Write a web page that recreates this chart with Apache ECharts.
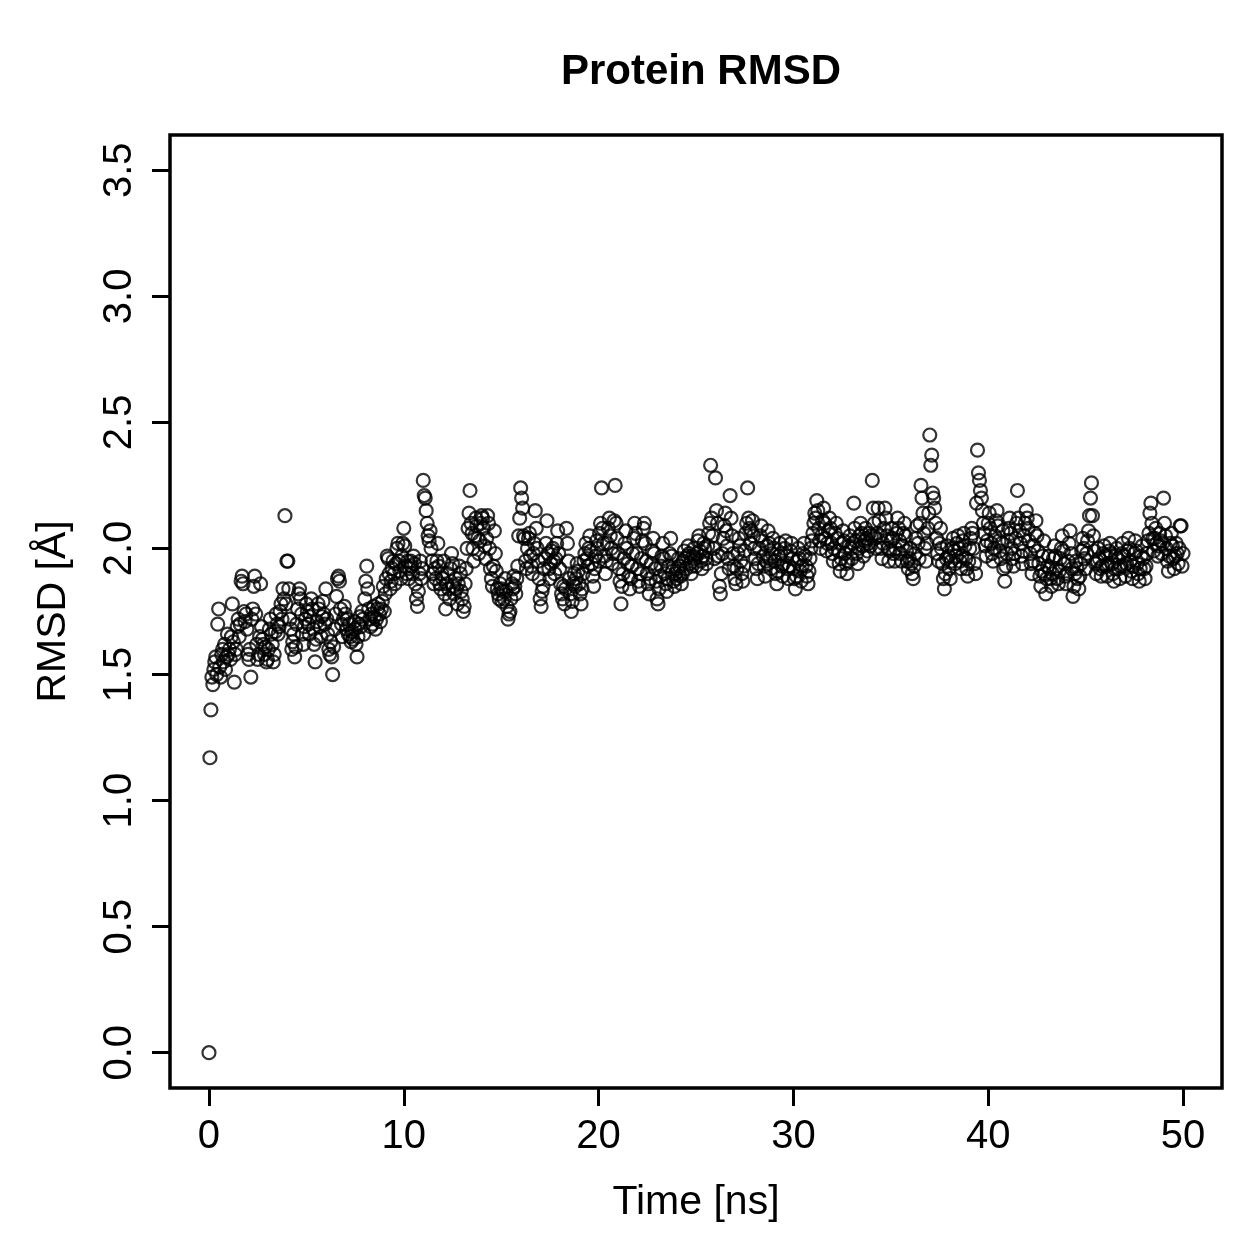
<!DOCTYPE html>
<html>
<head>
<meta charset="utf-8">
<title>Protein RMSD</title>
<script src="https://cdn.jsdelivr.net/npm/echarts@6/dist/echarts.min.js"></script>
<style>
  html, body { margin: 0; padding: 0; background: #fff; }
  #chart { width: 1259px; height: 1259px; }
</style>
</head>
<body>
<div id="chart"></div>
<script>
// frames are written every 0.05 ns, 0 .. 50 ns
const timeStep = 0.05

// RMSD values [Å], one row per ns
const rmsd = [
  0.00, 1.17, 1.36, 1.49, 1.46, 1.52, 1.55, 1.57, 1.50, 1.70, 1.76, 1.53, 1.49, 1.58, 1.60, 1.55, 1.62, 1.52, 1.57, 1.66,
  1.58, 1.60, 1.56, 1.65, 1.78, 1.63, 1.47, 1.58, 1.60, 1.69, 1.72, 1.65, 1.70, 1.87, 1.89, 1.86, 1.75, 1.71, 1.74, 1.68,
  1.58, 1.56, 1.60, 1.49, 1.72, 1.76, 1.85, 1.89, 1.74, 1.62, 1.56, 1.58, 1.65, 1.86, 1.69, 1.64, 1.62, 1.58, 1.61, 1.55,
  1.56, 1.60, 1.68, 1.72, 1.66, 1.62, 1.55, 1.58, 1.67, 1.74, 1.70, 1.66, 1.69, 1.75, 1.78, 1.72, 1.84, 1.80, 2.13, 1.78,
  1.95, 1.95, 1.84, 1.72, 1.68, 1.60, 1.63, 1.66, 1.57, 1.61, 1.70, 1.76, 1.82, 1.84, 1.80, 1.74, 1.66, 1.62, 1.69, 1.72,
  1.78, 1.75, 1.70, 1.66, 1.73, 1.80, 1.76, 1.68, 1.62, 1.55, 1.64, 1.71, 1.78, 1.76, 1.69, 1.65, 1.73, 1.79, 1.74, 1.70,
  1.84, 1.72, 1.66, 1.60, 1.58, 1.63, 1.57, 1.50, 1.61, 1.68, 1.74, 1.81, 1.88, 1.89, 1.87, 1.76, 1.70, 1.65, 1.72, 1.77,
  1.74, 1.68, 1.72, 1.66, 1.70, 1.65, 1.63, 1.67, 1.64, 1.71, 1.68, 1.62, 1.57, 1.65, 1.70, 1.73, 1.69, 1.75, 1.72, 1.66,
  1.80, 1.87, 1.93, 1.84, 1.76, 1.72, 1.69, 1.74, 1.70, 1.77, 1.73, 1.68, 1.72, 1.76, 1.78, 1.74, 1.71, 1.76, 1.79, 1.85,
  1.75, 1.82, 1.88, 1.97, 1.96, 1.90, 1.84, 1.87, 1.92, 1.95, 1.90, 1.86, 1.94, 2.00, 2.02, 1.95, 1.91, 1.88, 1.97, 2.02,
  2.08, 2.01, 1.93, 1.90, 1.95, 1.88, 1.92, 1.95, 1.93, 1.90, 1.97, 1.94, 1.86, 1.80, 1.77, 1.83, 1.90, 1.95, 1.88, 1.92,
  2.27, 2.21, 2.20, 2.15, 2.10, 2.05, 2.03, 2.07, 2.00, 1.95, 1.90, 1.86, 1.92, 1.88, 1.95, 2.02, 1.93, 1.86, 1.84, 1.90,
  1.88, 1.95, 1.82, 1.76, 1.86, 1.90, 1.84, 1.80, 1.92, 1.98, 1.94, 1.85, 1.82, 1.88, 1.84, 1.78, 1.86, 1.93, 1.90, 1.83,
  1.80, 1.75, 1.77, 1.86, 1.92, 2.00, 2.08, 2.14, 2.23, 2.10, 2.06, 2.00, 1.95, 2.05, 2.12, 2.09, 2.04, 1.98, 2.03, 2.10,
  2.13, 2.12, 2.08, 2.01, 1.96, 2.04, 2.13, 2.10, 2.00, 1.92, 1.88, 1.85, 1.93, 2.07, 1.98, 1.91, 1.84, 1.82, 1.80, 1.86,
  1.84, 1.79, 1.83, 1.80, 1.88, 1.83, 1.77, 1.72, 1.74, 1.75, 1.80, 1.86, 1.84, 1.89, 1.85, 1.82, 1.88, 1.93, 2.05, 2.12,
  2.24, 2.20, 2.16, 2.05, 2.04, 1.95, 1.92, 2.00, 2.04, 2.06, 1.97, 1.93, 1.90, 1.98, 2.02, 2.15, 2.08, 2.00, 1.95, 1.88,
  1.80, 1.77, 1.83, 1.85, 1.92, 1.96, 2.02, 2.11, 1.98, 1.92, 1.88, 1.94, 1.99, 2.00, 1.95, 1.90, 1.96, 2.02, 2.07, 1.98,
  1.92, 1.86, 1.82, 1.80, 1.85, 1.78, 1.84, 2.08, 2.02, 1.95, 1.88, 1.82, 1.75, 1.79, 1.86, 1.90, 1.85, 1.88, 1.94, 1.91,
  1.86, 1.82, 1.78, 1.84, 1.90, 1.95, 1.98, 2.02, 1.96, 1.93, 2.00, 2.05, 1.99, 1.94, 1.89, 1.85, 1.92, 1.97, 2.03, 2.00,
  1.95, 2.06, 2.10, 2.24, 2.08, 2.02, 1.97, 1.90, 1.95, 2.02, 2.08, 2.12, 2.05, 2.00, 1.94, 1.98, 2.11, 2.25, 2.10, 2.04,
  1.98, 1.92, 1.87, 1.78, 1.85, 1.90, 1.96, 2.02, 2.07, 2.00, 1.94, 1.89, 1.84, 1.88, 1.93, 1.98, 2.04, 2.10, 2.06, 1.98,
  1.92, 1.87, 1.85, 1.90, 1.96, 2.03, 2.08, 2.10, 2.02, 1.95, 1.90, 1.86, 1.82, 1.88, 1.94, 1.99, 2.04, 1.98, 1.92, 1.87,
  1.80, 1.78, 1.84, 1.89, 1.93, 1.97, 2.02, 1.96, 1.90, 1.86, 1.83, 1.88, 1.93, 1.98, 2.04, 1.97, 1.91, 1.87, 1.85, 1.90,
  1.88, 1.92, 1.96, 1.93, 1.89, 1.86, 1.90, 1.95, 1.99, 1.96, 1.92, 1.97, 2.01, 1.98, 1.94, 1.90, 1.93, 1.97, 2.00, 1.96,
  1.93, 1.98, 2.03, 2.05, 1.99, 1.95, 1.92, 1.97, 2.02, 2.00, 1.96, 1.94, 2.01, 2.06, 2.10, 2.33, 2.12, 2.05, 2.00, 1.96,
  2.28, 2.15, 2.10, 1.97, 1.85, 1.82, 1.90, 1.98, 2.04, 2.09, 2.14, 2.07, 2.01, 1.96, 1.92, 2.21, 2.12, 2.05, 1.98, 1.93,
  1.88, 1.86, 1.92, 1.98, 2.04, 2.01, 1.95, 1.90, 1.87, 1.93, 1.99, 2.06, 2.10, 2.24, 2.12, 2.08, 2.02, 2.07, 2.11, 2.05,
  2.00, 1.96, 1.92, 1.88, 1.94, 2.00, 2.05, 2.09, 2.03, 1.97, 1.93, 1.89, 1.95, 2.01, 2.07, 2.02, 1.96, 1.92, 1.98, 2.04,
  2.00, 1.95, 1.90, 1.86, 1.91, 1.97, 2.02, 1.98, 1.93, 1.89, 1.94, 2.00, 2.03, 1.97, 1.92, 1.88, 1.93, 1.99, 2.02, 1.96,
  1.92, 1.88, 1.84, 1.89, 1.95, 2.00, 1.96, 1.91, 1.87, 1.93, 1.98, 2.02, 1.97, 1.93, 1.89, 1.86, 1.91, 1.96, 2.00, 2.03,
  2.06, 2.10, 2.14, 2.12, 2.19, 2.15, 2.08, 2.03, 2.00, 2.05, 2.11, 2.16, 2.10, 2.04, 1.99, 2.02, 2.07, 2.12, 2.08, 2.02,
  1.98, 1.95, 2.00, 2.06, 2.10, 2.04, 1.99, 1.94, 1.91, 1.96, 2.02, 2.07, 2.03, 1.98, 1.94, 1.90, 1.95, 2.01, 2.05, 2.00,
  1.96, 2.02, 2.18, 2.08, 2.03, 1.98, 1.94, 2.00, 2.05, 2.10, 2.06, 2.01, 1.97, 2.03, 2.08, 2.04, 1.99, 2.02, 2.06, 2.01,
  2.05, 2.27, 2.16, 2.10, 2.04, 2.00, 2.06, 2.16, 2.11, 2.05, 2.00, 1.96, 2.02, 2.08, 2.16, 2.12, 2.05, 2.00, 1.95, 1.99,
  2.03, 2.08, 2.04, 1.98, 1.95, 2.00, 2.06, 2.12, 2.08, 2.03, 1.98, 1.95, 2.01, 2.06, 2.10, 2.05, 1.99, 1.95, 1.92, 1.96,
  2.00, 1.94, 1.90, 1.88, 1.93, 1.98, 2.04, 2.09, 2.02, 1.96, 2.10, 2.25, 2.20, 2.14, 2.06, 2.00, 1.95, 2.02, 2.08, 2.14,
  2.45, 2.33, 2.37, 2.22, 2.20, 2.16, 2.10, 2.04, 1.98, 1.95, 2.02, 2.08, 2.00, 1.94, 1.88, 1.84, 1.90, 1.96, 2.01, 1.97,
  1.92, 1.88, 1.95, 2.00, 2.04, 1.99, 1.94, 1.97, 2.02, 2.05, 2.00, 1.95, 1.92, 1.97, 2.03, 2.06, 2.01, 1.96, 1.92, 1.89,
  1.95, 2.00, 2.04, 2.08, 2.06, 2.00, 1.94, 1.90, 2.18, 2.39, 2.30, 2.27, 2.23, 2.20, 2.15, 2.10, 2.06, 2.01, 1.97, 2.03,
  2.10, 2.14, 2.08, 2.02, 1.98, 1.95, 2.00, 2.05, 2.11, 2.15, 2.09, 2.03, 1.99, 1.96, 2.02, 2.07, 1.92, 1.87, 1.93, 1.98,
  2.03, 2.08, 2.12, 2.06, 2.00, 1.96, 1.93, 1.98, 2.04, 2.10, 2.23, 2.12, 2.07, 2.02, 1.97, 1.94, 1.99, 2.05, 2.10, 2.15,
  2.12, 2.08, 2.03, 1.98, 1.94, 1.90, 1.95, 2.01, 2.06, 2.11, 2.05, 1.99, 1.94, 1.89, 1.85, 1.91, 1.97, 2.03, 1.90, 1.82,
  1.88, 1.93, 1.97, 1.92, 1.88, 1.85, 1.90, 1.96, 2.01, 1.97, 1.92, 1.88, 1.86, 1.91, 1.96, 2.00, 2.05, 1.99, 1.94, 1.89,
  1.86, 1.90, 1.95, 2.02, 2.07, 1.98, 1.92, 1.81, 1.85, 1.90, 1.95, 1.92, 1.88, 1.84, 1.89, 1.94, 1.99, 2.04, 2.00, 1.96,
  1.92, 1.98, 2.03, 2.07, 2.13, 2.20, 2.26, 2.13, 2.05, 1.99, 1.94, 1.90, 1.95, 2.00, 1.96, 1.92, 1.89, 1.93, 1.98, 2.01,
  1.97, 1.93, 1.89, 1.94, 1.99, 2.02, 1.98, 1.94, 1.90, 1.87, 1.92, 1.97, 2.00, 1.96, 1.92, 1.88, 1.93, 1.98, 2.02, 1.97,
  1.93, 1.89, 1.94, 1.99, 2.04, 2.00, 1.95, 1.91, 1.88, 1.93, 1.98, 2.03, 1.99, 1.94, 1.90, 1.87, 1.92, 1.97, 2.01, 1.96,
  1.92, 1.88, 1.93, 1.98, 2.03, 2.06, 2.14, 2.18, 2.10, 2.04, 1.99, 2.04, 2.08, 2.02, 1.97, 2.01, 2.06, 2.03, 1.98, 2.02,
  2.20, 2.10, 2.05, 2.00, 1.95, 1.91, 1.97, 2.02, 2.06, 2.01, 1.96, 1.92, 1.97, 2.02, 1.98, 1.94, 2.00, 2.09, 2.09, 1.93,
  1.98
]

const xTicks = [0, 10, 20, 30, 40, 50]
const yTicks = [0.0, 0.5, 1.0, 1.5, 2.0, 2.5, 3.0, 3.5]

const points = rmsd.map((v, i) => [+(i * timeStep).toFixed(2), v])

const font = 'Liberation Sans, Arial, Helvetica, sans-serif'

const chart = echarts.init(document.getElementById('chart'))
chart.setOption({
  animation: false,
  backgroundColor: '#fff',
  title: {
    text: 'Protein RMSD',
    left: 696,
    top: 46,
    textAlign: 'center',
    textStyle: { fontFamily: font, fontSize: 42, fontWeight: 'bold', color: '#000' }
  },
  grid: {
    left: 170,
    top: 135,
    width: 1052,
    height: 953,
    show: true,
    borderColor: '#000',
    borderWidth: 3.5,
    backgroundColor: 'transparent'
  },
  xAxis: {
    type: 'value',
    min: -2,
    max: 52,
    name: 'Time [ns]',
    nameLocation: 'middle',
    nameGap: 94,
    nameTextStyle: { fontFamily: font, fontSize: 41, color: '#000' },
    axisLine: { show: false, onZero: false },
    splitLine: { show: false },
    axisTick: {
      show: true,
      inside: false,
      length: 18,
      customValues: xTicks,
      lineStyle: { color: '#000', width: 3 }
    },
    axisLabel: {
      customValues: xTicks,
      margin: 29,
      fontFamily: font,
      fontSize: 40,
      color: '#000'
    }
  },
  yAxis: {
    type: 'value',
    min: -0.14,
    max: 3.64,
    name: 'RMSD [Å]',
    nameLocation: 'middle',
    nameGap: 96,
    nameTextStyle: { fontFamily: font, fontSize: 41, color: '#000' },
    axisLine: { show: false, onZero: false },
    splitLine: { show: false },
    axisTick: {
      show: true,
      inside: false,
      length: 18,
      customValues: yTicks,
      lineStyle: { color: '#000', width: 3 }
    },
    axisLabel: {
      customValues: yTicks,
      rotate: 90,
      margin: 30,
      fontFamily: font,
      fontSize: 40,
      color: '#000',
      formatter: v => v.toFixed(1)
    }
  },
  series: [{
    name: 'RMSD',
    type: 'scatter',
    data: points,
    symbol: 'circle',
    symbolSize: 13,
    itemStyle: {
      color: 'rgba(0,0,0,0)',
      borderColor: '#000',
      borderWidth: 2.2
    },
    emphasis: { disabled: true }
  }]
})
</script>
</body>
</html>
